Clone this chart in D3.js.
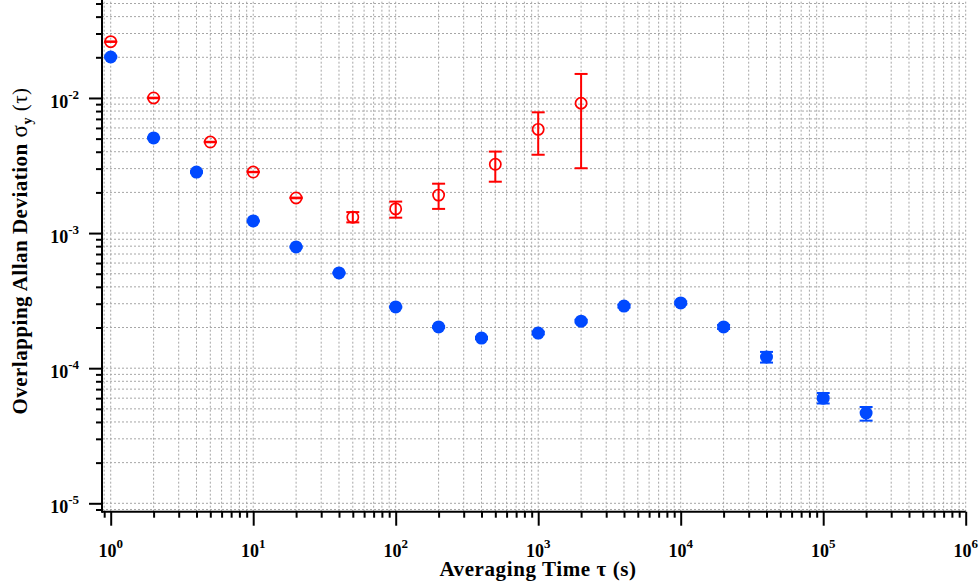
<!DOCTYPE html>
<html>
<head>
<meta charset="utf-8">
<script src="https://cdn.jsdelivr.net/npm/d3@7"></script>
<style>
  body { margin: 0; background: #fff; }
  text { font-family: "Liberation Serif", "Times New Roman", serif; font-weight: bold; fill: #000; }
</style>
</head>
<body>
<div id="chart"></div>
<script>
var width = 980;
var height = 586;

// blue: filled points
var blueTau = [1, 2, 4, 10, 20, 40, 100, 200, 400, 1000, 2000, 4000, 10000, 20000, 40000, 100000, 200000];
var blueDev = [0.0201, 0.00506, 0.00283, 0.00123, 0.00079, 0.000507, 0.000284, 0.000202, 0.000167, 0.000182, 0.000223, 0.000288, 0.000304, 0.000202, 0.000121, 0.000060, 0.0000466];
var blueLo  = [0.0199, 0.00501, 0.00280, 0.00122, 0.00078, 0.000502, 0.000281, 0.000199, 0.000164, 0.000178, 0.000218, 0.000281, 0.000296, 0.000195, 0.000110, 0.0000548, 0.0000409];
var blueHi  = [0.0203, 0.00511, 0.00286, 0.00124, 0.00080, 0.000512, 0.000287, 0.000205, 0.000170, 0.000186, 0.000228, 0.000295, 0.000312, 0.000209, 0.000132, 0.0000655, 0.0000516];

// red: open points
var redTau = [1, 2, 5, 10, 20, 50, 100, 200, 500, 1000, 2000];
var redDev = [0.0261, 0.0100, 0.00472, 0.00283, 0.00182, 0.00131, 0.00151, 0.00191, 0.00323, 0.00586, 0.00914];
var redLo  = [0.0260, 0.00995, 0.00470, 0.00282, 0.00181, 0.00120, 0.00130, 0.00151, 0.00240, 0.00380, 0.00302];
var redHi  = [0.0262, 0.01005, 0.00474, 0.00284, 0.00183, 0.00143, 0.00171, 0.00232, 0.00401, 0.00783, 0.01506];

var xExp = [0, 1, 2, 3, 4, 5, 6];
var yExp = [-2, -3, -4, -5];

var x = d3.scaleLog().domain([0.8688, 1e6]).range([102, 965.7]);
var y = d3.scaleLog().domain([8.666e-6, 0.0531]).range([511.7, 0]);

var svg = d3.select("#chart").append("svg")
  .attr("width", width)
  .attr("height", height);

// tick value lists
var xMinor = [], xMajor = [];
for (var e = -1; e <= 6; e++) {
  for (var m = 1; m <= 9; m++) {
    var v = m * Math.pow(10, e);
    if (v < x.domain()[0] || v > x.domain()[1] * 1.0001) continue;
    if (m == 1) xMajor.push(v); else xMinor.push(v);
  }
}
var yMinor = [], yMajor = [];
for (var e = -6; e <= -1; e++) {
  for (var m = 1; m <= 9; m++) {
    var v = m * Math.pow(10, e);
    if (v < y.domain()[0] || v > y.domain()[1]) continue;
    if (m == 1) yMajor.push(v); else yMinor.push(v);
  }
}

// grid
var grid = svg.append("g").attr("class", "grid");
grid.selectAll("line.gx")
  .data(xMajor.concat(xMinor)).enter()
  .append("line")
  .attr("x1", function(d) { return x(d); })
  .attr("x2", function(d) { return x(d); })
  .attr("y1", y.range()[0])
  .attr("y2", y.range()[1])
  .attr("stroke", "#a6a6a6")
  .attr("stroke-width", 1)
  .attr("stroke-dasharray", "2,2");
grid.selectAll("line.gy")
  .data(yMajor.concat(yMinor)).enter()
  .append("line")
  .attr("x1", x.range()[0])
  .attr("x2", x.range()[1])
  .attr("y1", function(d) { return y(d); })
  .attr("y2", function(d) { return y(d); })
  .attr("stroke", "#a6a6a6")
  .attr("stroke-width", 1)
  .attr("stroke-dasharray", "2,2");

// axes
function styleAxis(g) {
  g.select(".domain").remove();
  g.selectAll("line").attr("stroke", "#000").attr("stroke-width", 2);
  g.selectAll("text").remove();
}
svg.append("g").attr("transform", "translate(0," + y.range()[0] + ")")
  .call(d3.axisBottom(x).tickValues(xMinor).tickSize(6)).call(styleAxis);
svg.append("g").attr("transform", "translate(0," + y.range()[0] + ")")
  .call(d3.axisBottom(x).tickValues(xMajor).tickSize(14)).call(styleAxis);
svg.append("g").attr("transform", "translate(" + x.range()[0] + ",0)")
  .call(d3.axisLeft(y).tickValues(yMinor).tickSize(6)).call(styleAxis);
svg.append("g").attr("transform", "translate(" + x.range()[0] + ",0)")
  .call(d3.axisLeft(y).tickValues(yMajor).tickSize(13)).call(styleAxis);

svg.append("line")
  .attr("x1", x.range()[0]).attr("x2", x.range()[1])
  .attr("y1", y.range()[0]).attr("y2", y.range()[0])
  .attr("stroke", "#000").attr("stroke-width", 2);
svg.append("line")
  .attr("x1", x.range()[0]).attr("x2", x.range()[0])
  .attr("y1", y.range()[0] + 1).attr("y2", 0)
  .attr("stroke", "#000").attr("stroke-width", 2);

// tick labels
var xl = svg.append("g").selectAll("text")
  .data(xExp).enter()
  .append("text")
  .attr("x", function(d) { return x(Math.pow(10, d)); })
  .attr("y", 557)
  .attr("text-anchor", "middle")
  .style("font-size", "18px");
xl.append("tspan").text("10");
xl.append("tspan").attr("dy", "-9").style("font-size", "13px").text(function(d) { return d; });

var yl = svg.append("g").selectAll("text")
  .data(yExp).enter()
  .append("text")
  .attr("x", 79)
  .attr("y", function(d) { return y(Math.pow(10, d)) + 10; })
  .attr("text-anchor", "end")
  .style("font-size", "18px");
yl.append("tspan").text("10");
yl.append("tspan").attr("dy", "-9").style("font-size", "13px").text(function(d) { return d; });

// axis titles
svg.append("text")
  .attr("x", 538)
  .attr("y", 576)
  .attr("text-anchor", "middle")
  .style("font-size", "21px")
  .style("letter-spacing", "0.6px")
  .text("Averaging Time \u03c4 (s)");

var yt = svg.append("text")
  .attr("transform", "translate(27,251) rotate(-90)")
  .attr("text-anchor", "middle")
  .style("font-size", "21px")
  .style("letter-spacing", "0.5px");
yt.append("tspan").text("Overlapping Allan Deviation ");
yt.append("tspan").style("font-weight", "normal").style("font-size", "23px").text("\u03c3");
yt.append("tspan").attr("dy", "5").style("font-size", "14px").text("y");
yt.append("tspan").attr("dy", "-5").style("font-weight", "normal").text(" (\u03c4)");

// error bars
function errorBars(tau, lo, hi, color, capW) {
  var g = svg.append("g");
  var idx = d3.range(tau.length);
  g.selectAll("line.v").data(idx).enter().append("line")
    .attr("x1", function(i) { return x(tau[i]); })
    .attr("x2", function(i) { return x(tau[i]); })
    .attr("y1", function(i) { return y(lo[i]); })
    .attr("y2", function(i) { return y(hi[i]); })
    .attr("stroke", color).attr("stroke-width", 2);
  g.selectAll("line.lo").data(idx).enter().append("line")
    .attr("x1", function(i) { return x(tau[i]) - capW; })
    .attr("x2", function(i) { return x(tau[i]) + capW; })
    .attr("y1", function(i) { return y(lo[i]); })
    .attr("y2", function(i) { return y(lo[i]); })
    .attr("stroke", color).attr("stroke-width", 2);
  g.selectAll("line.hi").data(idx).enter().append("line")
    .attr("x1", function(i) { return x(tau[i]) - capW; })
    .attr("x2", function(i) { return x(tau[i]) + capW; })
    .attr("y1", function(i) { return y(hi[i]); })
    .attr("y2", function(i) { return y(hi[i]); })
    .attr("stroke", color).attr("stroke-width", 2);
}

var blue = "#0049ff";
var red = "#ff0000";

errorBars(blueTau, blueLo, blueHi, blue, 6.5);
svg.append("g").selectAll("circle")
  .data(d3.range(blueTau.length)).enter()
  .append("circle")
  .attr("cx", function(i) { return x(blueTau[i]); })
  .attr("cy", function(i) { return y(blueDev[i]); })
  .attr("r", 6.5)
  .attr("fill", blue);

errorBars(redTau, redLo, redHi, red, 6.5);
svg.append("g").selectAll("circle")
  .data(d3.range(redTau.length)).enter()
  .append("circle")
  .attr("cx", function(i) { return x(redTau[i]); })
  .attr("cy", function(i) { return y(redDev[i]); })
  .attr("r", 5.6)
  .attr("fill", "none")
  .attr("stroke", red)
  .attr("stroke-width", 1.7);
</script>
</body>
</html>
